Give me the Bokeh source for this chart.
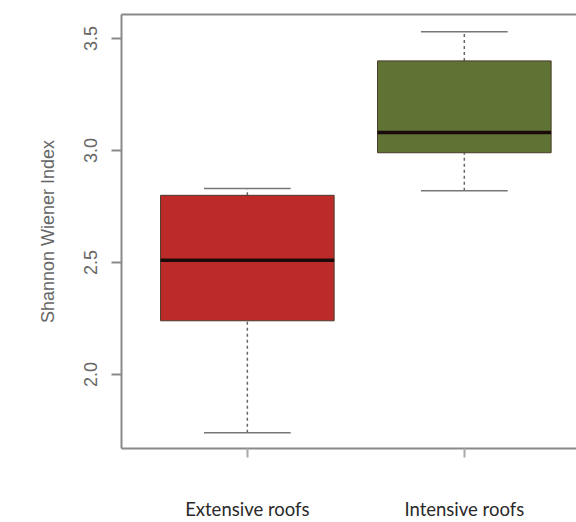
from bokeh.plotting import figure
from bokeh.models import FixedTicker, LinearAxis, Range1d, ColumnDataSource
from bokeh.embed import file_html
from bokeh.resources import INLINE

categories = ["Extensive roofs", "Intensive roofs"]
lower = [1.74, 2.82]
q1 = [2.24, 2.99]
median = [2.51, 3.08]
q3 = [2.80, 3.40]
upper = [2.83, 3.53]
colors = ["#bd2a2a", "#5f7434"]
y_ticks = [2.0, 2.5, 3.0, 3.5]

pos = [i + 1 for i in range(len(categories))]
box_w = 0.8
cap_w = 0.4

src = ColumnDataSource(dict(
    x=pos, lower=lower, q1=q1, median=median, q3=q3, upper=upper, color=colors,
    x0b=[x - box_w / 2 for x in pos], x1b=[x + box_w / 2 for x in pos],
    x0c=[x - cap_w / 2 for x in pos], x1c=[x + cap_w / 2 for x in pos],
))

p = figure(width=576, height=522, output_backend="svg", toolbar_location=None,
           x_range=Range1d(0.42, 2.517), y_range=Range1d(1.67, 3.607),
           min_border_left=121, min_border_top=14, min_border_bottom=74, min_border_right=0)
p.outline_line_color = None
p.xgrid.visible = False
p.ygrid.visible = False
p.background_fill_color = "white"
p.border_fill_color = "white"

# whiskers
p.segment(x0="x", y0="q3", x1="x", y1="upper", source=src, line_color="#666666",
          line_width=1.5, line_dash="3 3")
p.segment(x0="x", y0="lower", x1="x", y1="q1", source=src, line_color="#666666",
          line_width=1.5, line_dash="3 3")
# caps
p.segment(x0="x0c", y0="upper", x1="x1c", y1="upper", source=src, line_color="#777777", line_width=1.5)
p.segment(x0="x0c", y0="lower", x1="x1c", y1="lower", source=src, line_color="#777777", line_width=1.5)
# boxes
p.vbar(x="x", width=box_w, bottom="q1", top="q3", source=src, fill_color="color",
       line_color="#4a3a2a", line_width=1)
# medians
p.segment(x0="x0b", y0="median", x1="x1b", y1="median", source=src, line_color="#1a0a0a", line_width=3.5)

axis_col = "#8a8a8a"
# x axis
xa = p.xaxis[0]
xa.ticker = FixedTicker(ticks=pos)
xa.major_label_overrides = {x: c for x, c in zip(pos, categories)}
xa.major_label_text_font = "Lato"
xa.major_label_text_font_size = "18.5px"
xa.major_label_text_color = "#2a2a2a"
xa.major_label_standoff = 40
xa.axis_line_color = axis_col
xa.axis_line_width = 2
xa.major_tick_line_color = "#aaaaaa"
xa.major_tick_line_width = 2
xa.major_tick_out = 9
xa.major_tick_in = 0
xa.minor_tick_line_color = None

# y axis
ya = p.yaxis[0]
ya.ticker = FixedTicker(ticks=y_ticks)
ya.major_label_overrides = {t: f"{t:.1f}" for t in y_ticks}
ya.major_label_orientation = "vertical"
ya.major_label_text_font = "Liberation Sans"
ya.major_label_text_font_size = "18px"
ya.major_label_text_color = "#666666"
ya.major_label_standoff = 14
ya.axis_line_color = axis_col
ya.axis_line_width = 2
ya.major_tick_line_color = axis_col
ya.major_tick_line_width = 2
ya.major_tick_out = 10
ya.major_tick_in = 0
ya.minor_tick_line_color = None
ya.axis_label = "Shannon Wiener Index"
ya.axis_label_text_font = "Liberation Sans"
ya.axis_label_text_font_style = "normal"
ya.axis_label_text_font_size = "18px"
ya.axis_label_text_color = "#666666"
ya.axis_label_standoff = 24

# top border
top = LinearAxis(ticker=FixedTicker(ticks=[]),
                 axis_line_color=axis_col, axis_line_width=2,
                 major_tick_line_color=None, minor_tick_line_color=None)
p.add_layout(top, "above")

open("out.html", "w").write(file_html(p, INLINE))
